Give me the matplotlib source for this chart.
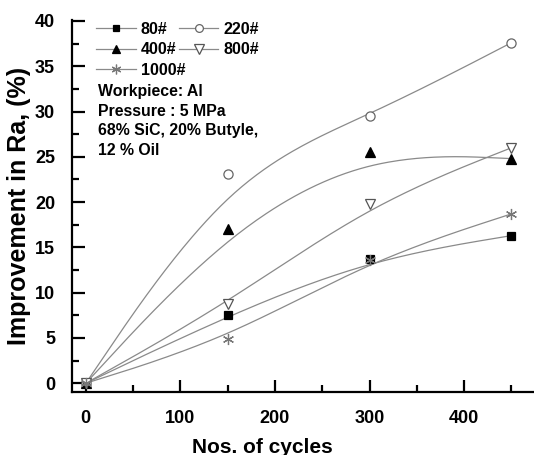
import numpy as np
import matplotlib
matplotlib.use("Agg")
import matplotlib.pyplot as plt
from matplotlib.lines import Line2D
from matplotlib.ticker import MultipleLocator

plt.rcParams['font.family'] = ['Liberation Sans', 'DejaVu Sans']
plt.rcParams['font.weight'] = 'bold'

cycles = [0, 150, 300, 450]
series_names = ["80#", "220#", "400#", "800#", "1000#"]
v80 = [0, 7.5, 13.7, 16.3]
v220 = [0, 23.1, 29.5, 37.6]
v400 = [0, 17.0, 25.5, 24.8]
v800 = [0, 8.8, 19.8, 26.0]
v1000 = [0, 4.9, 13.6, 18.7]


def bspline_curve(px, py, n=60):
    """Uniform cubic B-spline with the end points tripled (passes through first/last)."""
    cpx = [px[0]] * 2 + list(px) + [px[-1]] * 2
    cpy = [py[0]] * 2 + list(py) + [py[-1]] * 2
    u = np.linspace(0, 1, n)
    b0 = (1 - u) ** 3 / 6
    b1 = (3 * u ** 3 - 6 * u ** 2 + 4) / 6
    b2 = (-3 * u ** 3 + 3 * u ** 2 + 3 * u + 1) / 6
    b3 = u ** 3 / 6
    xs, ys = [], []
    for i in range(len(cpx) - 3):
        xs.append(b0 * cpx[i] + b1 * cpx[i + 1] + b2 * cpx[i + 2] + b3 * cpx[i + 3])
        ys.append(b0 * cpy[i] + b1 * cpy[i + 1] + b2 * cpy[i + 2] + b3 * cpy[i + 3])
    return np.concatenate(xs), np.concatenate(ys)


styles = {
    "80#": dict(marker='s', mfc='black', mec='black', ms=5.6),
    "220#": dict(marker='o', mfc='white', mec='#666666', ms=6.6),
    "400#": dict(marker='^', mfc='black', mec='black', ms=7.2),
    "800#": dict(marker='v', mfc='white', mec='#555555', ms=7.6),
}

fig = plt.figure(figsize=(5.34, 4.55), dpi=100)
ax = fig.add_axes([0.1343, 0.1378, 0.8657, 0.8182])

data = {"80#": v80, "220#": v220, "400#": v400, "800#": v800, "1000#": v1000}
line_col = '#8a8a8a'
handles = {}
for name in series_names:
    y = data[name]
    cx, cy = bspline_curve(cycles, y)
    ax.plot(cx, cy, color=line_col, lw=0.9, zorder=2)
    if name == "1000#":
        ax.plot(cycles, y, linestyle='none', marker=(6, 2, 0), ms=8, mec='#777777', mew=0.9, zorder=3)
        handles[name] = Line2D([], [], color=line_col, lw=0.9, marker=(6, 2, 0), ms=7, mec='#777777', mew=0.9)
    else:
        st = styles[name]
        ax.plot(cycles, y, linestyle='none', zorder=3, mew=0.9, **st)
        hst = dict(st)
        hst['ms'] = st['ms'] - 1.0
        handles[name] = Line2D([], [], color=line_col, lw=0.9, mew=0.9, **hst)

order = ["80#", "400#", "1000#", "220#", "800#"]
leg = ax.legend([handles[n] for n in order], order, ncol=2, loc='upper left',
                bbox_to_anchor=(0.053, 0.995), frameon=False, fontsize=11.6,
                handlelength=2.45, handletextpad=0.3, columnspacing=-0.38,
                labelspacing=0.335, borderaxespad=0.0, borderpad=0.0)
for t in leg.get_texts():
    t.set_fontweight('bold')

ax.text(0.056, 0.828, "Workpiece: Al\nPressure : 5 MPa\n68% SiC, 20% Butyle,\n12 % Oil",
        transform=ax.transAxes, fontsize=11.4, fontweight='bold', va='top', ha='left',
        linespacing=1.39)

ax.set_xlim(-14.9, 473.8)
ax.set_ylim(-1.0, 40.1)
ax.xaxis.set_major_locator(MultipleLocator(100))
ax.xaxis.set_minor_locator(MultipleLocator(50))
ax.yaxis.set_major_locator(MultipleLocator(5))
ax.yaxis.set_minor_locator(MultipleLocator(2.5))
ax.tick_params(which='major', direction='in', length=9, width=1.6, labelsize=13)
ax.tick_params(which='minor', direction='in', length=5, width=1.6)
ax.tick_params(axis='x', which='major', pad=12.5)
ax.tick_params(axis='y', which='major', pad=12)
for lbl in ax.get_xticklabels() + ax.get_yticklabels():
    lbl.set_fontweight('bold')
ax.spines['top'].set_visible(False)
ax.spines['right'].set_visible(False)
ax.spines['left'].set_linewidth(1.6)
ax.spines['bottom'].set_linewidth(1.6)
ax.set_xlabel("Nos. of cycles", fontsize=15, fontweight='bold', va='center')
ax.xaxis.set_label_coords(0.412, -0.147)
ax.set_ylabel("Improvement in Ra, (%)", fontsize=18, fontweight='bold', va='center')
ax.yaxis.set_label_coords(-0.114, 0.5)

fig.savefig("out.png", dpi=100)
